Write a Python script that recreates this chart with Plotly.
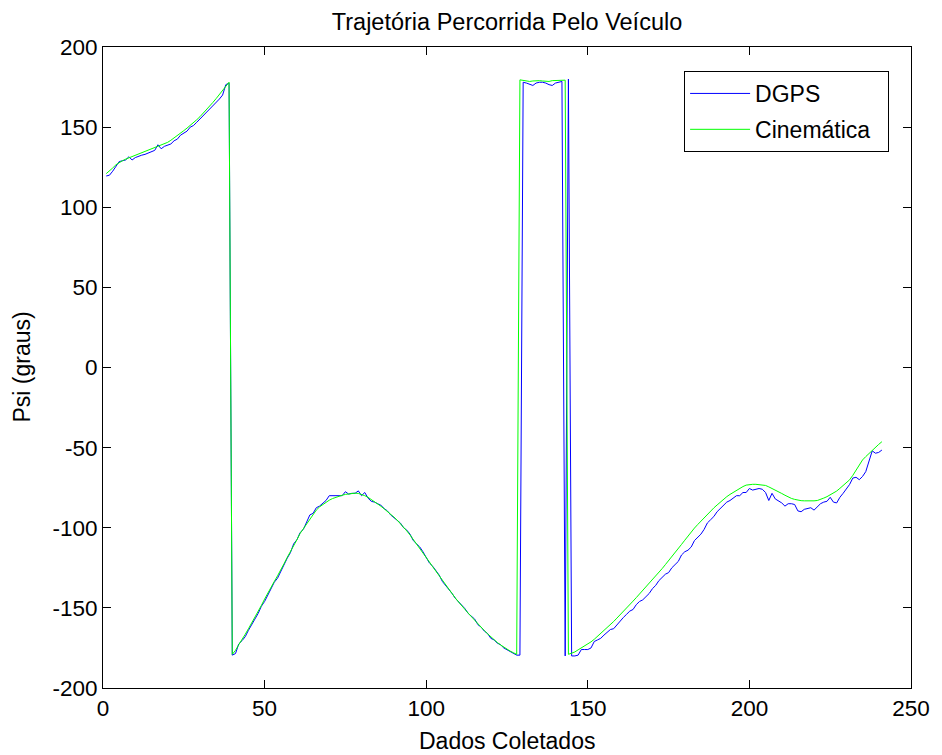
import plotly.graph_objects as go

# sample index (Dados Coletados)
dados = list(range(1, 242))

# DGPS heading (blue)
dgps = [
    119.5, 120.0, 122.5, 125.5, 128.5, 129.0, 129.5, 131.5, 129.5, 131.0,
    132.0, 132.5, 133.0, 134.0, 134.5, 135.5, 139.0, 136.5, 138.0, 139.0,
    139.5, 141.5, 142.5, 145.0, 146.0, 147.5, 150.0, 151.0, 153.0, 155.0,
    157.0, 159.0, 161.5, 163.0, 165.0, 167.5, 170.0, 176.5, 177.5,
    -179.5, -178.5, -172.5, -170.5, -168.0, -164.0, -160.0, -157.0, -153.5, -149.0,
    -146.0, -142.0, -138.5, -134.0, -131.5, -127.0, -123.0, -119.0, -115.5, -110.0,
    -107.5, -103.0, -101.0, -96.5, -92.0, -91.0, -87.5, -86.5, -85.0, -83.0,
    -80.0, -80.0, -80.0, -80.0, -80.0, -77.5, -79.0, -78.5, -78.5, -77.0,
    -80.0, -78.0, -81.5, -83.5, -84.0, -85.0, -86.0, -88.0, -89.5, -92.0,
    -93.5, -95.0, -97.0, -100.0, -101.5, -104.0, -108.0, -110.0, -112.0, -115.0,
    -118.5, -122.0, -124.0, -127.0, -129.5, -133.5, -136.0, -138.0, -141.0, -144.0,
    -146.0, -148.0, -150.5, -153.5, -155.0, -157.0, -160.5, -162.0, -164.5, -166.0,
    -169.0, -170.0, -172.0, -173.0, -175.0, -176.0, -177.5, -178.5, -179.5, -179.5,
    178.0, 177.5, 176.5, 176.0, 177.5, 178.0, 178.0, 177.5, 176.5, 176.0, 177.5, 178.0, 178.5,
    -180.0, 180.0, -180.0, -180.0, -179.5,
    -176.0, -176.0, -176.0, -175.0, -171.0, -170.0, -169.0, -167.0, -165.0, -163.5,
    -163.0, -160.5, -158.0, -156.0, -154.0, -152.0, -151.0, -148.0, -146.0, -145.0,
    -143.0, -141.0, -138.0, -136.0, -133.0, -131.0, -129.0, -128.0, -125.0, -123.0,
    -121.0, -117.0, -115.0, -114.0, -112.0, -108.0, -106.0, -104.0, -101.0, -97.0,
    -95.0, -93.0, -90.0, -88.0, -85.5, -84.0, -83.0, -81.5, -80.0, -80.0,
    -78.0, -78.0, -75.5, -76.5, -76.0, -75.5, -76.0, -78.0, -83.0, -78.5,
    -82.0, -83.0, -84.5, -86.5, -85.0, -85.0, -85.5, -89.5, -90.0, -88.5,
    -88.0, -87.5, -89.0, -87.0, -85.0, -84.0, -83.5, -81.0, -84.0, -84.5,
    -81.0, -78.5, -76.0, -73.0, -69.0, -68.5, -70.0, -68.0, -65.0, -59.0,
    -52.0, -53.5, -53.0, -51.5,
]

# Cinemática heading (green)
cinematica = [
    121.0, 122.5, 124.5, 126.5, 128.0, 129.0, 130.0, 130.8, 131.5, 132.3,
    133.0, 133.8, 134.6, 135.4, 136.2, 137.0, 137.8, 138.6, 139.5, 140.5,
    141.8, 143.2, 144.6, 146.2, 147.8, 149.4, 151.0, 152.8, 154.6, 156.5,
    158.6, 160.8, 163.0, 165.4, 167.8, 170.3, 172.8, 175.4, 178.0,
    -179.0, -176.5, -173.0, -170.0, -166.5, -163.0, -159.5, -156.0, -152.0, -148.5,
    -144.5, -140.5, -137.0, -133.5, -130.0, -126.5, -122.5, -118.5, -115.0, -111.0,
    -107.5, -103.5, -100.5, -97.5, -94.5, -91.5, -89.0, -87.0, -85.5, -84.0,
    -82.8, -81.8, -81.0, -80.3, -79.7, -79.2, -78.8, -78.5, -78.4, -78.6,
    -79.2, -80.0, -81.0, -82.3, -83.6, -85.0, -86.6, -88.2, -89.8, -91.5,
    -93.3, -95.2, -97.3, -99.6, -102.0, -104.5, -107.2, -110.0, -112.8, -115.6,
    -118.5, -121.4, -124.3, -127.2, -130.1, -133.0, -135.9, -138.7, -141.3, -143.8,
    -146.3, -148.8, -151.0, -153.3, -155.5, -157.8, -160.0, -162.2, -164.2, -166.2,
    -168.1, -170.0, -171.6, -173.1, -174.5, -175.8, -177.0, -178.0, -179.0,
    179.5, 179.3, 179.0, 178.5, 178.8, 179.0, 179.0, 178.8, 178.5, 178.5,
    179.0, 179.0, 179.2, 179.3, 179.3,
    -179.0, -178.3, -177.5, -176.2, -175.0, -173.7, -172.4, -171.2, -169.6, -167.8,
    -166.0, -164.2, -162.4, -160.5, -158.5, -156.4, -154.4, -152.3, -150.2, -148.0,
    -145.8, -143.6, -141.4, -139.2, -136.9, -134.6, -132.4, -130.2, -127.9, -125.5,
    -123.0, -120.6, -118.2, -115.7, -113.1, -110.4, -107.8, -105.1, -102.5, -100.2,
    -98.0, -95.8, -93.6, -91.4, -89.5, -87.6, -85.8, -83.9, -82.1, -80.6,
    -79.2, -77.9, -76.6, -75.3, -74.3, -73.4, -73.0, -72.9, -72.9, -73.0,
    -73.2, -73.6, -74.5, -75.4, -76.4, -77.5, -78.6, -79.7, -80.8, -81.7,
    -82.3, -82.8, -83.1, -83.2, -83.3, -83.3, -83.2, -83.0, -82.4, -81.5,
    -80.6, -79.6, -78.6, -77.1, -75.4, -73.7, -71.9, -70.1, -67.3, -64.2,
    -61.0, -57.7, -55.6, -53.6, -51.5, -49.7, -48.0, -46.3,
]

x_ticks = [0, 50, 100, 150, 200, 250]
y_ticks = [-200, -150, -100, -50, 0, 50, 100, 150, 200]

FONT = "Liberation Sans, Arial, Helvetica, sans-serif"
FS_TICK = 22.5
FS_TITLE = 23.5
FS_LEG = 23
FS_LAB = 23
PAD = "\u00a0\u00a0"

fig = go.Figure()
fig.add_trace(go.Scatter(x=dados, y=dgps, mode="lines", name="DGPS" + PAD,
                         legendgroup="a",
                         line=dict(color="#0000ff", width=1)))
fig.add_trace(go.Scatter(x=dados, y=cinematica, mode="lines", name="Cinemática" + PAD,
                         legendgroup="b",
                         line=dict(color="#00ff00", width=1)))

axis_common = dict(
    showgrid=False, zeroline=False, showline=True, linecolor="black",
    linewidth=1, mirror="ticks", ticks="inside", ticklen=8, tickwidth=1,
    tickcolor="black", tickfont=dict(family=FONT, size=FS_TICK, color="black"),
)

fig.update_layout(
    width=942, height=755,
    margin=dict(l=103, r=27, t=47, b=67, pad=0),
    paper_bgcolor="white", plot_bgcolor="white",
    font=dict(family=FONT, size=FS_TICK, color="black"),
    title=dict(text="Trajetória Percorrida Pelo Veículo", x=0.5, xref="paper",
               xanchor="center", y=1 - 22 / 755, yanchor="middle",
               font=dict(family=FONT, size=FS_TITLE, color="black")),
    xaxis=dict(range=[0, 250], tickvals=x_ticks,
               ticktext=[str(v) for v in x_ticks], **axis_common),
    yaxis=dict(range=[-200, 200], tickvals=y_ticks,
               ticktext=[str(v) for v in y_ticks], **axis_common),
    legend=dict(x=0.9729, xanchor="right", y=0.9626, yanchor="top",
                bgcolor="white", bordercolor="black", borderwidth=1,
                font=dict(family=FONT, size=FS_LEG, color="black"),
                tracegroupgap=3, itemwidth=60),
    showlegend=True,
    annotations=[
        dict(text="Dados Coletados", x=0.5, y=0, xref="paper", yref="paper",
             xanchor="center", yanchor="middle", yshift=-(741 - 688),
             showarrow=False, font=dict(family=FONT, size=FS_LAB, color="black")),
        dict(text="Psi (graus)", x=0, y=0.5, xref="paper", yref="paper",
             xanchor="center", yanchor="middle", xshift=-(103 - 21),
             textangle=-90, showarrow=False,
             font=dict(family=FONT, size=FS_LAB, color="black")),
    ],
)

fig.write_html("out.html", config={"displayModeBar": False},
               post_script="document.body.style.margin='0';document.body.style.overflow='hidden';")
